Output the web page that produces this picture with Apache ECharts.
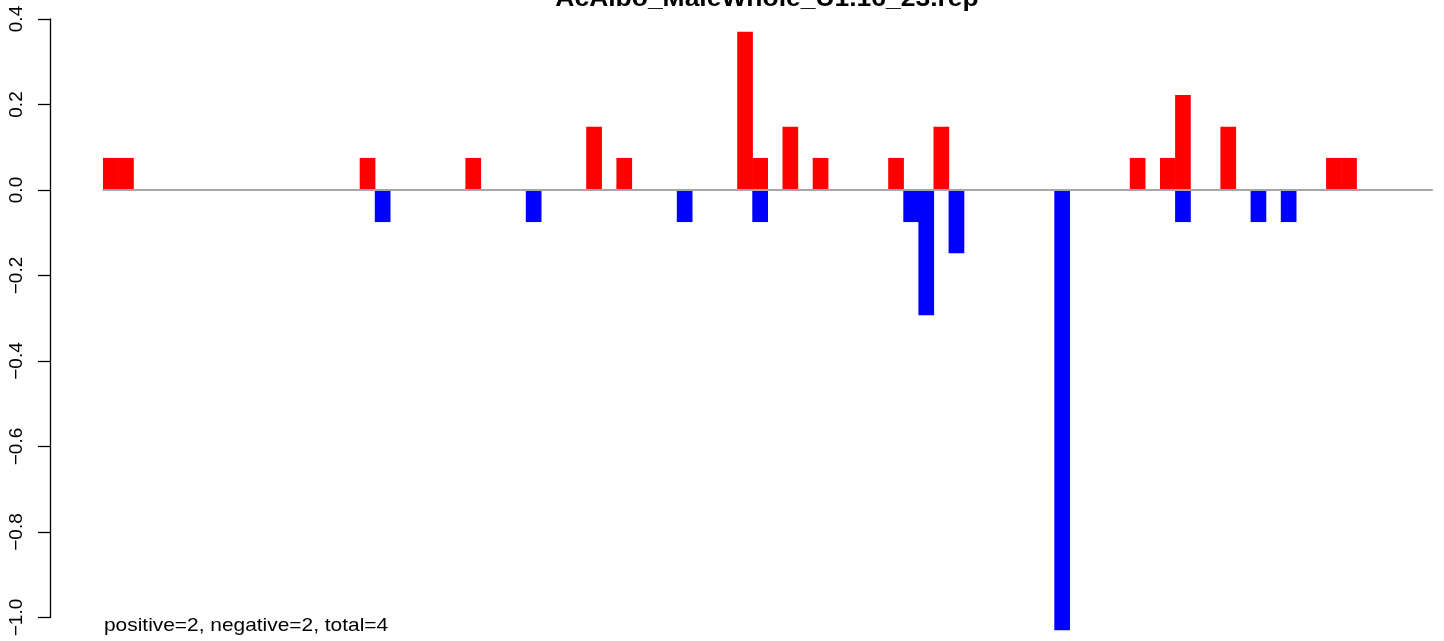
<!DOCTYPE html>
<html><head><meta charset="utf-8">
<script src="https://cdn.jsdelivr.net/npm/echarts@6/dist/echarts.min.js"></script>
<style>html,body{margin:0;padding:0;background:#fff}#c{width:1444px;height:641px}</style>
</head><body><div id="c"></div>
<script>
var titleText = "AcAlbo_MaleWhole_U1.16_23.rep";
var footText = "positive=2, negative=2, total=4";
var categories = [];
for (var i = 1; i <= 88; i++) categories.push(String(i));
// positive (red) values by position
var positiveValues = [
  0.075,0.075,0,0,0,0,0,0,0,0, 0,0,0,0,0,0,0,0.075,0,0, 0,0,0,0,0.075,0,0,0,0,0,
  0,0,0.148,0,0.075,0,0,0,0,0, 0,0,0.37,0.075,0,0.148,0,0.075,0,0, 0,0,0.075,0,0,0.148,0,0,0,0,
  0,0,0,0,0,0,0,0,0.075,0, 0.075,0.222,0,0,0.148,0,0,0,0,0, 0,0.075,0.075,0,0,0,0,0
];
// negative (blue) values by position
var negativeValues = [
  0,0,0,0,0,0,0,0,0,0, 0,0,0,0,0,0,0,0,-0.075,0, 0,0,0,0,0,0,0,0,-0.075,0,
  0,0,0,0,0,0,0,0,-0.075,0, 0,0,0,-0.075,0,0,0,0,0,0, 0,0,0,-0.075,-0.293,0,-0.148,0,0,0,
  0,0,0,-1.03,0,0,0,0,0,0, 0,-0.075,0,0,0,0,-0.075,0,-0.075,0, 0,0,0,0,0,0,0,0
];
var yTicks = [-1.0,-0.8,-0.6,-0.4,-0.2,0.0,0.2,0.4];

var chart = echarts.init(document.getElementById('c'), null, {renderer:'canvas'});
chart.setOption({
  animation: false,
  backgroundColor: '#ffffff',
  grid: {left: 103.3, right: 11.9, top: 19, bottom: 23.5, containLabel: false},
  xAxis: {
    type: 'category', data: categories, boundaryGap: true,
    axisLine: {show: true, onZero: true, lineStyle: {color: '#a6a6a6', width: 2}},
    axisTick: {show: false}, axisLabel: {show: false}, splitLine: {show: false}, z: 5
  },
  yAxis: {
    type: 'value', min: yTicks[0], max: yTicks[yTicks.length - 1], interval: 0.2, offset: 53.3,
    axisLine: {show: true, lineStyle: {color: '#000', width: 1.3}},
    axisTick: {show: true, length: 12, lineStyle: {color: '#000', width: 1.3}},
    splitLine: {show: false},
    axisLabel: {
      rotate: 90, margin: 24, color: '#000', fontSize: 19,
      fontFamily: 'Liberation Sans, Arial, sans-serif',
      formatter: function (v) { var s = v.toFixed(1); return s.replace('-', '\u2212'); }
    }
  },
  series: [
    {type: 'bar', data: positiveValues, barWidth: 15.7, barGap: '-100%', clip: false,
     itemStyle: {color: '#ff0000'}, z: 2},
    {type: 'bar', data: negativeValues, barWidth: 15.7, barGap: '-100%', clip: false,
     itemStyle: {color: '#0000ff'}, z: 2}
  ],
  graphic: [
    {type: 'text', x: 767, y: 11.5, z: 10, scaleX: 1.15,
     style: {text: titleText, font: 'bold 23px "Liberation Sans", Arial, sans-serif', fill: '#000',
             textAlign: 'center', textVerticalAlign: 'bottom'}},
    {type: 'text', x: 104, y: 635, z: 10, scaleX: 1.1,
     style: {text: footText, font: '19px "Liberation Sans", Arial, sans-serif', fill: '#000',
             textAlign: 'left', textVerticalAlign: 'bottom'}}
  ]
});
</script></body></html>
